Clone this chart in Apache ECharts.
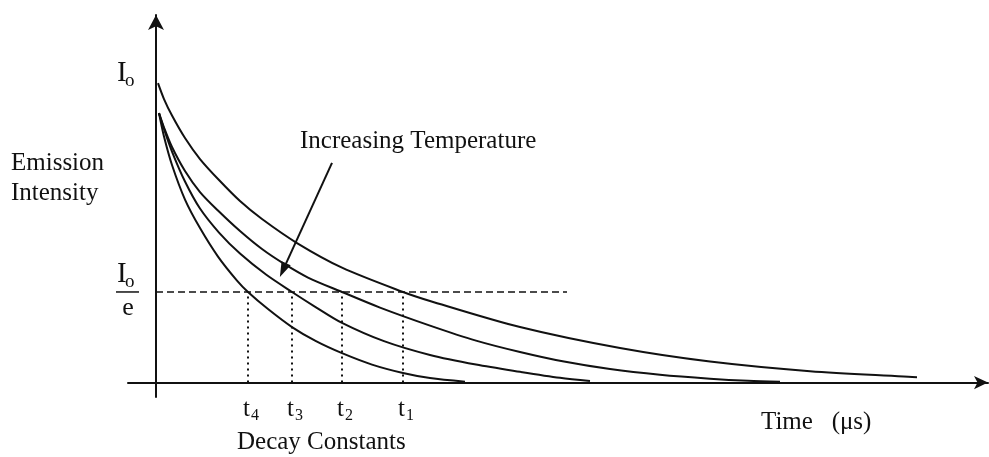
<!DOCTYPE html>
<html><head><meta charset="utf-8">
<script src="https://cdn.jsdelivr.net/npm/echarts@6/dist/echarts.min.js"></script>
<style>html,body{margin:0;padding:0;background:#fff}#c{width:989px;height:457px}</style>
</head><body><div id="c"></div>
<script>
// Schematic decay curves (time in arbitrary units, intensity with I0 = 100)
const curve1 = [[0.5,99.8],[2,94.5],[4,89],[7.25,81.5],[11,74.5],[15.75,67.5],[21,60.5],[26.5,54.5],[35.25,46.5],[46.5,38.3],[61.75,30.2],[68.5,27.2],[91,18.5],[116,11.5],[138.5,7],[163.5,3.8],[190.25,1.8]];
const curve2 = [[0.75,89.8],[2,85],[4,78.5],[7.25,70.5],[11,63.5],[15.75,57],[21,50.5],[26.5,44.5],[31.75,39.8],[38,35],[46.5,30.2],[56,25],[68.5,19],[80,14],[91,10.2],[102,7],[113.5,4.5],[126,2.6],[138.5,1.3],[148,0.6],[156,0.3]];
const curve3 = [[0.75,89.8],[2,84.5],[4,77],[7.25,67],[11,58],[15.75,50],[21,43],[27.5,36],[34,30.2],[40,25.1],[46.5,19.9],[57,13.8],[68.5,9.2],[80,6],[91,3.6],[101,1.6],[108.5,0.5]];
const curve4 = [[0.75,89.8],[2,82],[4,72.5],[7.25,61],[11,51.5],[15.5,42],[20.25,34],[23,30.2],[28,24.5],[34,18.5],[40,13.8],[46.5,9.8],[54,6],[61.75,3.2],[68.5,1.5],[77.25,0.3]];
const decayTimes = [23, 34, 46.5, 61.75];
const decaySubs = ['4', '3', '2', '1'];
const levelIe = 30.2;
const dashEnd = 102.75;
const arrowFrom = [44, 73.2];
const arrowTo = [31.75, 37.5];

const FONT = 'Liberation Serif, Times New Roman, serif';
const INK = '#111';

const chart = echarts.init(document.getElementById('c'), null, {renderer: 'canvas'});

function curveSeries(data) {
  return {type: 'line', data: data, showSymbol: false, symbol: 'none', smooth: 0.3,
    lineStyle: {color: INK, width: 2}, silent: true, emphasis: {disabled: true}, z: 3};
}

const markData = [
  [{coord: [0, levelIe]}, {coord: [dashEnd, levelIe], lineStyle: {type: [7, 4], width: 1.5, color: INK}}]
];
decayTimes.forEach(t => {
  markData.push([{coord: [t, 0]}, {coord: [t, levelIe], lineStyle: {type: [2, 4], width: 2, color: INK}}]);
});
markData.push([{coord: arrowFrom, symbol: 'none'}, {coord: arrowTo, symbol: 'triangle', symbolSize: [10, 15], lineStyle: {type: 'solid', width: 2, color: INK}}]);

chart.setOption({
  animation: false,
  backgroundColor: '#fff',
  grid: {left: 128, right: 1, top: 15, bottom: 60},
  xAxis: {type: 'value', min: -7, max: 208, splitLine: {show: false}, axisTick: {show: false}, axisLabel: {show: false},
    axisLine: {onZero: true, lineStyle: {color: INK, width: 2}, symbol: ['none', 'arrow'], symbolSize: [10, 14]}},
  yAxis: {type: 'value', min: -4.8, max: 122.5, splitLine: {show: false}, axisTick: {show: false}, axisLabel: {show: false},
    axisLine: {onZero: true, lineStyle: {color: INK, width: 2}, symbol: ['none', 'arrow'], symbolSize: [12, 15]}},
  series: [
    curveSeries(curve1), curveSeries(curve2), curveSeries(curve3), curveSeries(curve4),
    {type: 'line', data: [], silent: true,
      markLine: {silent: true, symbol: ['none', 'none'], label: {show: false}, emphasis: {disabled: true},
        lineStyle: {color: INK, width: 1.5}, data: markData}}
  ]
});

function txt(text, x, y, size, align) {
  return {type: 'text', x: x, y: y, silent: true, z: 10,
    style: {text: text, fill: INK, fontSize: size, fontFamily: FONT,
      textAlign: align || 'left', align: align || 'left', textVerticalAlign: 'middle', verticalAlign: 'middle'}};
}

const g = [];
// I0 label near top
g.push(txt('I', 117, 73, 29));
g.push(txt('o', 125, 81, 19));
// I0 / e fraction at the 1/e level
const pIe = chart.convertToPixel({gridIndex: 0}, [0, levelIe]);
g.push(txt('I', 117, pIe[1] - 18, 29));
g.push(txt('o', 125, pIe[1] - 10, 19));
g.push({type: 'line', silent: true, z: 10, shape: {x1: 116, y1: pIe[1], x2: 139, y2: pIe[1]}, style: {stroke: INK, lineWidth: 1.5}});
g.push(txt('e', 128, pIe[1] + 16, 26, 'center'));
// axis titles
g.push(txt('Emission', 11, 163, 25));
g.push(txt('Intensity', 11, 193, 25));
g.push(txt('Increasing Temperature', 300, 141, 25));
g.push(txt('Decay Constants', 237, 442, 25));
g.push(txt('Time   (\u03bcs)', 761, 422, 25));
// decay constant tick labels
decayTimes.forEach((t, i) => {
  const p = chart.convertToPixel({gridIndex: 0}, [t, 0]);
  g.push(txt('t', p[0] - 5, p[1] + 27, 25));
  g.push(txt(decaySubs[i], p[0] + 3, p[1] + 33, 16));
});
chart.setOption({graphic: {elements: g}});
</script>
</body></html>
